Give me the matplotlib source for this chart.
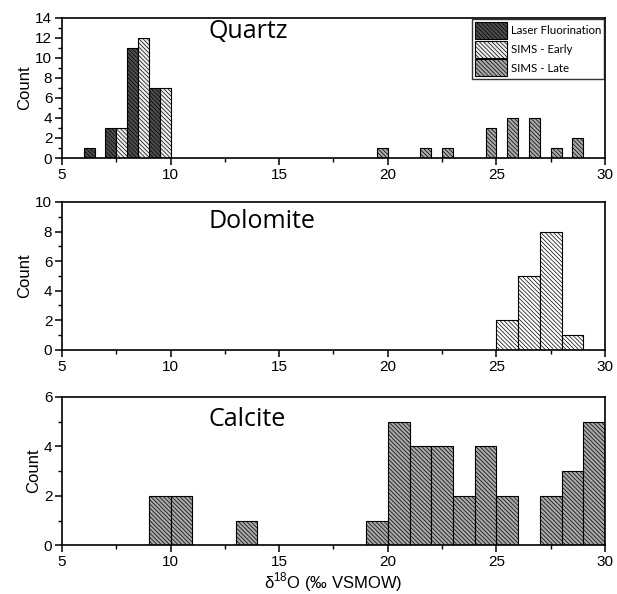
import matplotlib
matplotlib.use("Agg")
import matplotlib.pyplot as plt
from matplotlib.ticker import MultipleLocator

# bin left edges (1 permil bins) and counts
quartz_lf_bins = [6, 7, 8, 9]
quartz_lf_counts = [1, 3, 11, 7]
quartz_early_bins = [7, 8, 9]
quartz_early_counts = [3, 12, 7]
quartz_late_bins = [19, 21, 22, 24, 25, 26, 27, 28]
quartz_late_counts = [1, 1, 1, 3, 4, 4, 1, 2]

dolomite_bins = [25, 26, 27, 28]
dolomite_counts = [2, 5, 8, 1]

calcite_bins = [9, 10, 13, 19, 20, 21, 22, 23, 24, 25, 27, 28, 29]
calcite_counts = [2, 2, 1, 1, 5, 4, 4, 2, 4, 2, 2, 3, 5]

plt.rcParams['font.family'] = ['Liberation Sans', 'DejaVu Sans']
plt.rcParams['hatch.linewidth'] = 0.5
plt.rcParams['mathtext.fontset'] = 'custom'
plt.rcParams['mathtext.rm'] = 'Liberation Sans'

HATCH = '\\' * 8
DARK = '#4d4d4d'
LIGHT = '#efefef'
MID = '#a9a9a9'

fig = plt.figure(figsize=(6.17, 5.94), dpi=100)
ax1 = fig.add_axes([0.1005, 0.734, 0.880, 0.236])
ax2 = fig.add_axes([0.1005, 0.411, 0.880, 0.249])
ax3 = fig.add_axes([0.1005, 0.082, 0.880, 0.250])


def style(ax, ymax, ystep, title, ty):
    ax.set_xlim(5, 30)
    ax.set_ylim(0, ymax)
    ax.xaxis.set_major_locator(MultipleLocator(5))
    ax.xaxis.set_minor_locator(MultipleLocator(2.5))
    ax.yaxis.set_major_locator(MultipleLocator(ystep))
    ax.yaxis.set_minor_locator(MultipleLocator(1))
    ax.tick_params(which='major', direction='out', length=5, width=1.1,
                   labelsize=11, pad=2)
    ax.tick_params(which='minor', direction='out', length=3, width=1.0)
    for s in ax.spines.values():
        s.set_linewidth(1.2)
    ax.set_ylabel('Count', fontsize=12, labelpad=2)
    ax.text(0.269, ty, title, transform=ax.transAxes, fontsize=18,
            family='Open Sans', va='center', ha='left')


kw = dict(align='edge', edgecolor='black', linewidth=0.8, hatch=HATCH)

ax1.bar(quartz_lf_bins, quartz_lf_counts, width=0.5, color=DARK,
        label='Laser Fluorination', **kw)
ax1.bar([b + 0.5 for b in quartz_early_bins], quartz_early_counts, width=0.5,
        color=LIGHT, label='SIMS - Early', **kw)
ax1.bar([b + 0.5 for b in quartz_late_bins], quartz_late_counts, width=0.5,
        color=MID, label='SIMS - Late', **kw)
style(ax1, 14, 2, 'Quartz', 0.90)
leg = ax1.legend(loc='upper right', prop={'family': 'Lato', 'size': 8.3},
                 frameon=True, fancybox=False, borderpad=0.25,
                 handlelength=2.8, handleheight=1.9, handletextpad=0.3,
                 labelspacing=0.15, borderaxespad=0.1)
leg.get_frame().set_edgecolor('black')
leg.get_frame().set_linewidth(1.0)

ax2.bar(dolomite_bins, dolomite_counts, width=1, color='white', **kw)
style(ax2, 10, 2, 'Dolomite', 0.865)

ax3.bar(calcite_bins, calcite_counts, width=1, color=MID, **kw)
style(ax3, 6, 2, 'Calcite', 0.847)
ax3.set_xlabel('δ$^{\\mathregular{18}}$O (‰ VSMOW)', fontsize=12, labelpad=1)

fig.savefig('out.png', dpi=100)
